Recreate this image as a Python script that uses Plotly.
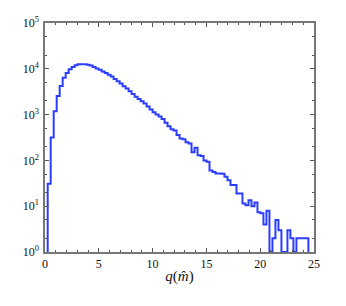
import numpy as np
import plotly.graph_objects as go

# histogram bin edges (87 bins)
bin_start = 0.25
bin_end = 24.48
n_bins = 87

counts = [
    31, 315, 1180, 2560, 4200, 6400, 8100, 9800, 11000, 12000,
    12500, 12600, 12500, 12200, 11750, 11000, 10200, 9550, 8700, 8100,
    7400, 6750, 6000, 5350, 4800, 4150, 3700, 3250, 2800, 2450,
    2200, 1950, 1750, 1500, 1300, 1120, 1000, 910, 800, 660,
    560, 480, 450, 360, 300, 290, 250, 235, 150, 190,
    130, 125, 100, 93, 60, 56, 52, 52, 51, 44,
    37, 29, 29, 19, 19, 11.5, 10.5, 13.5, 10, 12,
    7.4, 7, 4, 8, 1, 2, 5, 3, 1, 1,
    3, 2, 1, 2, 2, 2, 2,
]

x_ticks = [0, 5, 10, 15, 20, 25]
y_tickvals = [1, 10, 100, 1000, 10000, 100000]
y_ticktext = ["10<sup>0</sup>", "10<sup>1</sup>", "10<sup>2</sup>",
              "10<sup>3</sup>", "10<sup>4</sup>", "10<sup>5</sup>"]

edges = np.linspace(bin_start, bin_end, n_bins + 1)
xs = [edges[0]] + list(edges[:-1]) + [edges[-1], edges[-1]]
ys = [1] + counts + [counts[-1], 1]

fig = go.Figure()
fig.add_trace(go.Scatter(x=xs, y=ys, mode="lines", line_shape="hv",
                         line=dict(color="#2a3dff", width=2), showlegend=False))

serif = "Liberation Serif, Times New Roman, serif"
fig.update_layout(
    template="none",
    width=346, height=306,
    margin=dict(l=37, r=40, t=15, b=62),
    paper_bgcolor="white", plot_bgcolor="white",
    font=dict(family=serif, size=12, color="#111"),
    xaxis=dict(range=[0, 25], tickvals=x_ticks, ticks="inside", ticklen=4,
               tickcolor="#555", linecolor="#777", linewidth=1.5, mirror="ticks",
               showgrid=False, zeroline=False,
               tickfont=dict(family=serif, size=12, color="#111"),
               minor=dict(dtick=1, ticks="inside", ticklen=2, tickcolor="#555",
                          showgrid=False),
               title=dict(text="<i>q</i>(<i>m&#770;</i>)", standoff=0,
                          font=dict(family=serif, size=15, color="#111"))),
    yaxis=dict(type="log", range=[0, 5], tickvals=y_tickvals, ticktext=y_ticktext,
               ticks="inside", ticklen=4, tickcolor="#555", linecolor="#777",
               linewidth=1.5, mirror="ticks", showgrid=False, zeroline=False,
               tickfont=dict(family=serif, size=12, color="#111"),
               minor=dict(ticks="inside", ticklen=2, tickcolor="#555",
                          showgrid=False),
               ticklabelstandoff=2),
)
fig.write_html("out.html")
